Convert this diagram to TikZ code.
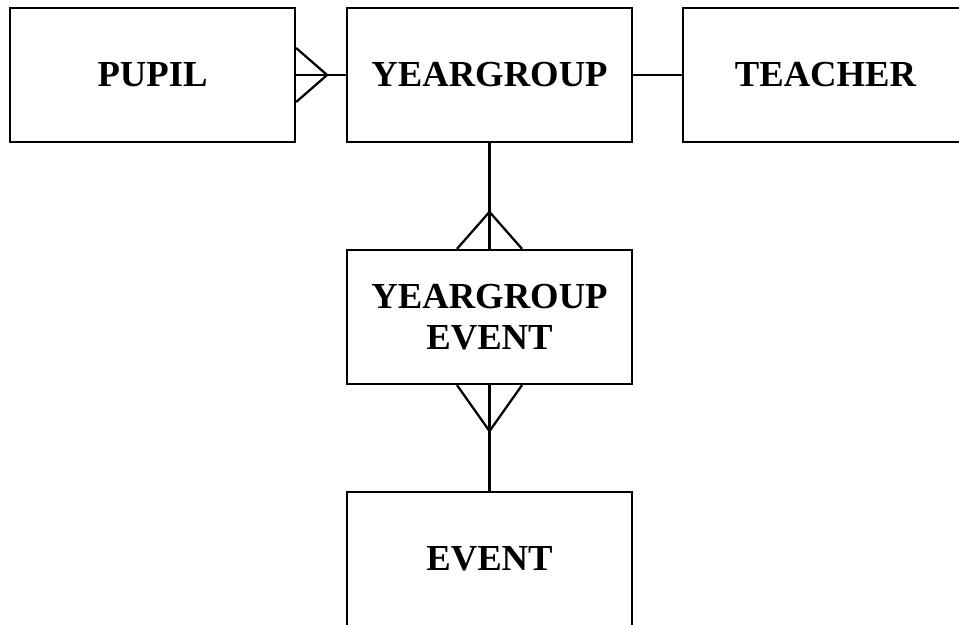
\documentclass[tikz,border=0pt]{standalone}
\usepackage{fontspec}
\setmainfont{Liberation Serif}
\usetikzlibrary{calc}

\begin{document}
\begin{tikzpicture}[x=0.75pt, y=-0.75pt, line width=1.7pt,
    entity/.style={draw, minimum width=213.75pt, minimum height=100.5pt, inner sep=0pt,
      align=center, font=\fontsize{27.5}{31}\selectfont\bfseries}]
  \useasboundingbox (0,0) rectangle (959,624);

  % Entidades
  \node[entity] (pupil) at (152.5,75) {PUPIL};
  \node[entity] (yeargroup) at (489.5,75) {YEARGROUP};
  \node[entity] (teacher) at (825.5,75) {TEACHER};
  \node[entity] (ygevent) at (489.5,317) {YEARGROUP\\EVENT};
  \node[entity] (event) at (489.5,559) {EVENT};

  % Relaciones
  \draw (pupil.east) -- (yeargroup.west);
  \draw (yeargroup.east) -- (teacher.west);
  \draw (yeargroup.south) -- (ygevent.north);
  \draw (ygevent.south) -- (event.north);

  % Patas de gallo
  \coordinate (fpupil) at ($(pupil.east)+(31,0)$);
  \draw ($(pupil.east)+(0,-27)$) -- (fpupil) -- ($(pupil.east)+(0,27)$);
  \coordinate (fygtop) at ($(ygevent.north)+(0,-37)$);
  \draw ($(ygevent.north)+(-32.5,0)$) -- (fygtop) -- ($(ygevent.north)+(32.5,0)$);
  \coordinate (fygbot) at ($(ygevent.south)+(0,46)$);
  \draw ($(ygevent.south)+(-32.5,0)$) -- (fygbot) -- ($(ygevent.south)+(32.5,0)$);
\end{tikzpicture}
\end{document}
